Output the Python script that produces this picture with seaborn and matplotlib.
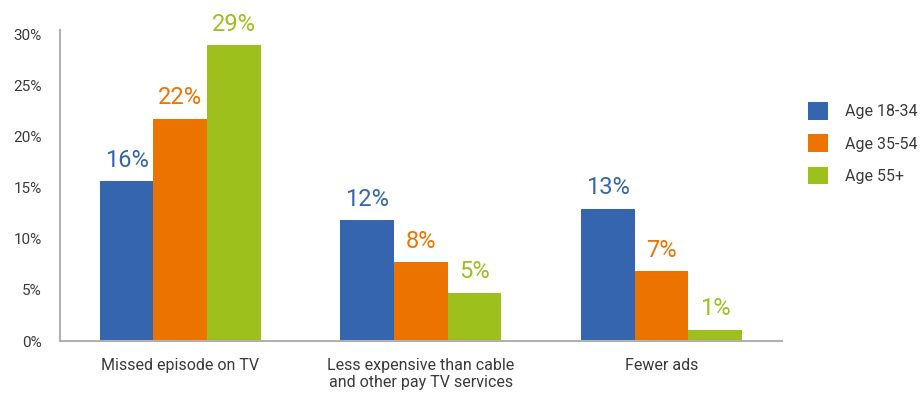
import matplotlib
matplotlib.use("Agg")
import matplotlib.pyplot as plt
import seaborn as sns
import pandas as pd
from matplotlib.patches import Patch
from matplotlib import font_manager

categories = ["Missed episode on TV", "Less expensive than cable\nand other pay TV services", "Fewer ads"]
groups = ["Age 18-34", "Age 35-54", "Age 55+"]
age_18_34 = [15.6, 11.8, 12.9]
age_35_54 = [21.7, 7.7, 6.8]
age_55_plus = [28.9, 4.7, 1.1]
labels_18_34 = ["16%", "12%", "13%"]
labels_35_54 = ["22%", "8%", "7%"]
labels_55_plus = ["29%", "5%", "1%"]
yticks = [0, 5, 10, 15, 20, 25, 30]
ytick_labels = ["0%", "5%", "10%", "15%", "20%", "25%", "30%"]

colors = ["#3465AE", "#EC7300", "#9DC01D"]

sns.set_theme(style="white")
names = {f.name for f in font_manager.fontManager.ttflist}
fam = [f for f in ["Liberation Sans Narrow", "DejaVu Sans Condensed", "Roboto", "DejaVu Sans"] if f in names] or ["DejaVu Sans"]
plt.rcParams["font.family"] = fam + ["DejaVu Sans"]

rows = []
for g, vals in zip(groups, [age_18_34, age_35_54, age_55_plus]):
    for c, v in zip(categories, vals):
        rows.append({"category": c, "group": g, "value": v})
df = pd.DataFrame(rows)

fig = plt.figure(figsize=(9.23, 4.05), dpi=100)
ax = fig.add_axes([0.065, 0.158, 0.782, 0.768])
sns.barplot(data=df, x="category", y="value", hue="group", order=categories,
            hue_order=groups, palette=colors, width=0.67, gap=0, ax=ax,
            saturation=1, legend=False, edgecolor="none")

ax.set_xlim(-0.5, 2.5)
ax.set_ylim(0, 30.4)
ax.set_yticks(yticks)
ax.set_yticklabels(ytick_labels, fontsize=11, color="#3a3a3a")
ax.tick_params(axis="x", labelsize=11.5, labelcolor="#3a3a3a", length=0, pad=12)
ax.tick_params(axis="y", length=0, pad=13)
ax.set_xlabel("")
ax.set_ylabel("")
for s in ["top", "right"]:
    ax.spines[s].set_visible(False)
for s in ["left", "bottom"]:
    ax.spines[s].set_color("#b0b0b0")
    ax.spines[s].set_linewidth(1.5)

all_labels = [labels_18_34, labels_35_54, labels_55_plus]
for i, cont in enumerate(ax.containers):
    for bar, txt in zip(cont, all_labels[i]):
        ax.annotate(txt, (bar.get_x() + bar.get_width() / 2, bar.get_height()),
                    xytext=(0, 7), textcoords="offset points", ha="center", va="bottom",
                    fontsize=17, color=colors[i])

handles = [Patch(facecolor=c, edgecolor="none") for c in colors]
fig.legend(handles, groups, loc="upper left", bbox_to_anchor=(0.869, 0.763), frameon=False,
           fontsize=11.5, handlelength=1.2, handleheight=1.3, handletextpad=1.1,
           labelspacing=0.92, labelcolor="#3a3a3a", borderaxespad=0)

fig.savefig("out.png", dpi=100)
